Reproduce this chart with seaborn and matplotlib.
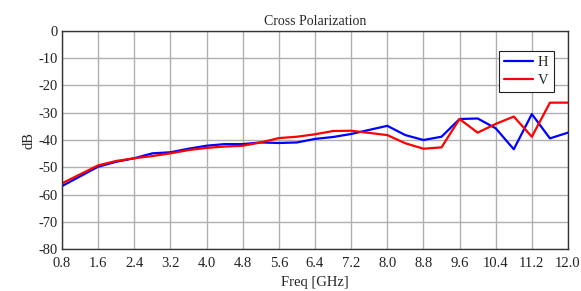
import numpy as np
import pandas as pd
import matplotlib
matplotlib.use("Agg")
import matplotlib.pyplot as plt
import seaborn as sns

freq = [0.8, 1.6, 2.0, 2.4, 2.8, 3.2, 3.6, 4.0, 4.4, 4.8, 5.2, 5.6, 6.0, 6.4,
        6.8, 7.2, 8.0, 8.4, 8.8, 9.2, 9.6, 10.0, 10.4, 10.8, 11.2, 11.6, 12.0]
h_db = [-56.9, -49.8, -48.0, -46.7, -44.9, -44.5, -43.2, -42.1, -41.5, -41.5,
        -40.9, -41.1, -40.9, -39.6, -38.9, -37.8, -34.8, -38.2, -40.0, -38.8,
        -32.3, -32.1, -35.7, -43.4, -30.5, -39.4, -37.3]
v_db = [-55.9, -49.3, -47.7, -46.7, -45.9, -44.9, -43.7, -42.9, -42.4, -42.1,
        -40.9, -39.3, -38.8, -37.9, -36.7, -36.6, -38.2, -41.2, -43.2, -42.7,
        -32.3, -37.3, -34.1, -31.4, -38.8, -26.3, -26.3]

df = pd.concat([
    pd.DataFrame({"freq": freq, "dB": h_db, "pol": "H"}),
    pd.DataFrame({"freq": freq, "dB": v_db, "pol": "V"}),
])

sns.set_style("whitegrid")
plt.rcParams["font.family"] = ["Liberation Serif", "DejaVu Serif"]
plt.rcParams["axes.unicode_minus"] = False

fig = plt.figure(figsize=(5.81, 2.91), dpi=100)
ax = fig.add_axes([0.1067, 0.1443, 0.8709, 0.7492])
sns.lineplot(data=df, x="freq", y="dB", hue="pol",
             palette={"H": "#0000ff", "V": "#ff0000"}, linewidth=1.6, ax=ax)

ax.set_xlim(0.8, 12.0)
ax.set_ylim(-80, 0)
ax.set_xticks(np.arange(0.8, 12.01, 0.8))
ax.set_xticklabels([f"{t:.1f}" for t in np.arange(0.8, 12.01, 0.8)])
ax.set_yticks(range(-80, 1, 10))
ax.tick_params(axis="both", labelsize=10.5, length=0, colors="#222222")
ax.tick_params(axis="x", pad=6)
ax.tick_params(axis="y", pad=3)
ax.grid(color="#b0b0b0", linewidth=1.0)
for s in ax.spines.values():
    s.set_color("#333333")
    s.set_linewidth(1.0)

ax.set_title("Cross Polarization", fontsize=10, pad=4)
ax.set_xlabel("Freq [GHz]", fontsize=10.5, labelpad=4)
ax.set_ylabel("dB", fontsize=10.5, labelpad=2)

leg = ax.legend(loc="upper right", bbox_to_anchor=(0.972, 0.908), fontsize=10.5,
                frameon=True, fancybox=False, handlelength=2.0,
                borderpad=0.35, labelspacing=0.3, handletextpad=0.35,
                borderaxespad=0)
leg.get_frame().set_edgecolor("#222222")
leg.get_frame().set_linewidth(0.8)
leg.get_frame().set_alpha(1)

fig.savefig("out.png", dpi=100)
